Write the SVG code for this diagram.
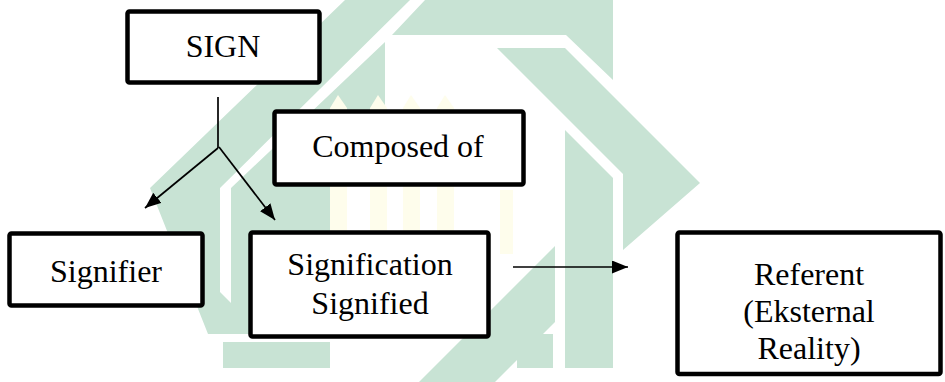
<svg xmlns="http://www.w3.org/2000/svg" width="945" height="382" viewBox="0 0 945 382">
<style>
.wm{fill:#c8e3d4}
.ym{fill:#fefdec}
.box{fill:#ffffff;stroke:#000;stroke-width:4.5}
.lbl{font-family:"Liberation Serif","Times New Roman",serif;font-size:32px;fill:#000;text-anchor:middle}
.con{stroke:#000;stroke-width:1.7;fill:none}
</style>
<defs>
<marker id="ah" markerUnits="userSpaceOnUse" viewBox="0 0 16 13" refX="16" refY="6.5" markerWidth="16" markerHeight="13" orient="auto">
<path d="M0,0 L16,6.5 L0,13 z" fill="#000"/>
</marker>
</defs>
<rect width="945" height="382" fill="#fff"/>
<g id="watermark">
<polygon class="wm" points="345,0 410,0 220,188 220,292 262,334 208,334 150,188"/>
<polygon class="wm" points="425,0 613,0 613,80 566,35 392,35"/>
<polygon class="wm" points="231,188 385,42 385,110 330,110 330,334 231,334"/>
<polygon class="wm" points="497,48 565,48 700,183 623,250 623,174"/>
<polygon class="wm" points="565,130 613,178 613,368 565,368"/>
<polygon class="wm" points="555,246 555,322 495,382 419,382"/>
<polygon class="wm" points="223,342 330,342 330,368 223,368"/>
<polygon class="wm" points="517,334 553,334 553,368 517,368"/>
<path class="ym" d="M330,250 V108 L338,95 L347,108 V250 Z"/>
<path class="ym" d="M370,250 V108 L378,95 L387,108 V250 Z"/>
<path class="ym" d="M403,250 V108 L411,95 L420,108 V250 Z"/>
<path class="ym" d="M437,250 V108 L445,95 L454,108 V250 Z"/>
<rect class="ym" x="500" y="190" width="13" height="64"/>
</g>
<g id="connectors">
<line class="con" x1="218" y1="97" x2="218" y2="148"/>
<line class="con" x1="218" y1="148" x2="145" y2="208" marker-end="url(#ah)"/>
<line class="con" x1="219" y1="147" x2="275" y2="220" marker-end="url(#ah)"/>
<line class="con" x1="513" y1="267" x2="628" y2="267" marker-end="url(#ah)"/>
</g>
<g id="sign">
<rect class="box" x="127.5" y="11.5" width="192" height="71" rx="2"/>
<text class="lbl" x="223" y="57">SIGN</text>
</g>
<g id="composed-of">
<rect class="box" x="274.5" y="111.5" width="249" height="73" rx="2"/>
<text class="lbl" x="398" y="157">Composed of</text>
</g>
<g id="signifier">
<rect class="box" x="9.5" y="233.5" width="193" height="72" rx="2"/>
<text class="lbl" x="106" y="282">Signifier</text>
</g>
<g id="signification">
<rect class="box" x="250.5" y="232.5" width="238" height="104" rx="2"/>
<text class="lbl" x="370" y="275">Signification</text>
<text class="lbl" x="370" y="314">Signified</text>
</g>
<g id="referent">
<rect class="box" x="677.5" y="232.5" width="263" height="141.5" rx="2"/>
<text class="lbl" x="809" y="285">Referent</text>
<text class="lbl" x="809" y="322">(Eksternal</text>
<text class="lbl" x="809" y="359">Reality)</text>
</g>
</svg>
